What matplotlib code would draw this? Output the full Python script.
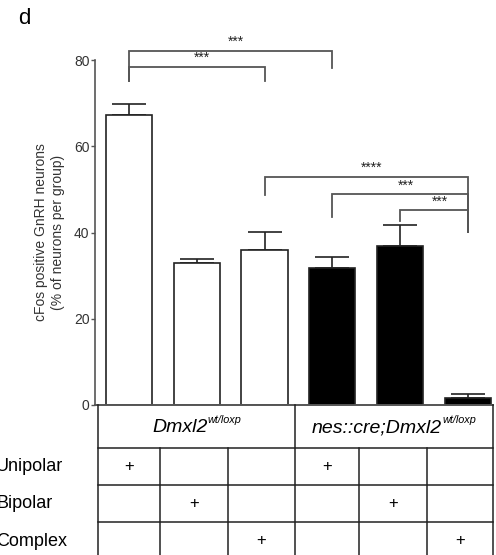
import matplotlib
matplotlib.use("Agg")
from matplotlib import pyplot as plt

plt.rcParams["font.family"] = ["Liberation Sans", "DejaVu Sans"]

# data
means = [67.2, 32.9, 35.9, 31.8, 36.9, 1.6]
errors = [2.6, 1.0, 4.2, 2.5, 4.8, 1.0]
fills = ["white", "white", "white", "black", "black", "black"]
genotypes = ["Dmxl2", "nes::cre;Dmxl2"]
genotype_sup = "wt/loxp"
row_labels = ["Unipolar", "Bipolar", "Complex"]
plus_row = [0, 1, 2, 0, 1, 2]  # which row carries the "+" for each bar

# significance brackets: (bar a, bar b, bracket height, leg end a, leg end b, label)
brackets = [
    (0, 3, 82.1, 75.1, 78.1, "***"),
    (0, 2, 78.4, 75.1, 75.1, "***"),
    (2, 5, 52.9, 48.7, 40.1, "****"),
    (3, 5, 48.9, 43.6, 40.1, "***"),
    (4, 5, 45.2, 42.7, 40.1, "***"),
]

W, H = 496, 555
fig = plt.figure(figsize=(W / 100, H / 100), dpi=100)

# bar chart
ax = fig.add_axes([95 / W, 1 - 405 / H, 398 / W, 345 / H])
x = list(range(len(means)))
ax.bar(x, means, width=0.68, color=fills, edgecolor="#222222", linewidth=1.2, zorder=2)
ax.errorbar(x, means, yerr=[[0] * len(errors), errors], fmt="none",
            ecolor="#222222", elinewidth=1.2, capsize=12, capthick=1.2, zorder=1)
ax.set_xlim(-0.501, 5.37)
ax.set_ylim(0, 80)
ax.set_yticks([0, 20, 40, 60, 80])
ax.set_xticks([])
ax.spines["top"].set_visible(False)
ax.spines["right"].set_visible(False)
for s in ["left", "bottom"]:
    ax.spines[s].set_color("#555555")
    ax.spines[s].set_linewidth(1.2)
ax.tick_params(axis="y", length=3, width=1.0, color="#555555", labelsize=10,
               labelcolor="#333333", pad=1)
ax.set_ylabel("cFos positive GnRH neurons\n(% of neurons per group)", fontsize=10,
              color="#333333", linespacing=1.35, labelpad=6)

for a, b, yb, ya_end, yb_end, lab in brackets:
    ax.plot([a, a, b, b], [ya_end, yb, yb, yb_end], color="#555555", lw=1.3,
            clip_on=False, solid_joinstyle="miter")
    ax.text((a + b) / 2 + 0.08, yb + 0.4, lab, ha="center", va="bottom",
            fontsize=10, color="#222222")

# panel letter and the genotype/morphology table, in pixel coordinates
ov = fig.add_axes([0, 0, 1, 1])
ov.set_xlim(0, W)
ov.set_ylim(H, 0)
ov.axis("off")
ov.patch.set_alpha(0)

ov.text(18, 19, "d", fontsize=16, ha="left", va="center")

col_edges = [98, 160, 228, 295, 359, 427, 493]
row_edges = [405, 448, 485, 522, 560]
lc = "#222222"
ov.plot([95, 493], [405, 405], color="#555555", lw=1.2)
for y in row_edges[1:]:
    ov.plot([col_edges[0], col_edges[-1]], [y, y], color=lc, lw=1.1)
for i, xe in enumerate(col_edges):
    y0 = 405 if i in (0, 3, 6) else row_edges[1]
    ov.plot([xe, xe], [y0, H], color=lc, lw=1.1)

for r, lab in enumerate(row_labels):
    yc = (row_edges[r + 1] + row_edges[r + 2]) / 2
    ov.text(-4, yc, lab, fontsize=13, ha="left", va="center")

for c, r in enumerate(plus_row):
    xc = (col_edges[c] + col_edges[c + 1]) / 2
    yc = (row_edges[r + 1] + row_edges[r + 2]) / 2
    ov.text(xc, yc, "+", fontsize=12, ha="center", va="center")

# genotype labels with superscript, centred over each group of columns
fig.canvas.draw()
rend = fig.canvas.get_renderer()
for g, name in enumerate(genotypes):
    x0, x1 = col_edges[3 * g], col_edges[3 * g + 3]
    t1 = ov.text(0, 428, name, fontsize=14, style="italic", ha="left", va="center")
    t2 = ov.text(0, 420, genotype_sup, fontsize=7.8, style="italic", ha="left", va="center")
    w1 = t1.get_window_extent(rend).width
    w2 = t2.get_window_extent(rend).width
    start = (x0 + x1) / 2 - (w1 + w2) / 2
    t1.set_x(start)
    t2.set_x(start + w1 + 0.5)

fig.savefig("out.png", dpi=100)
